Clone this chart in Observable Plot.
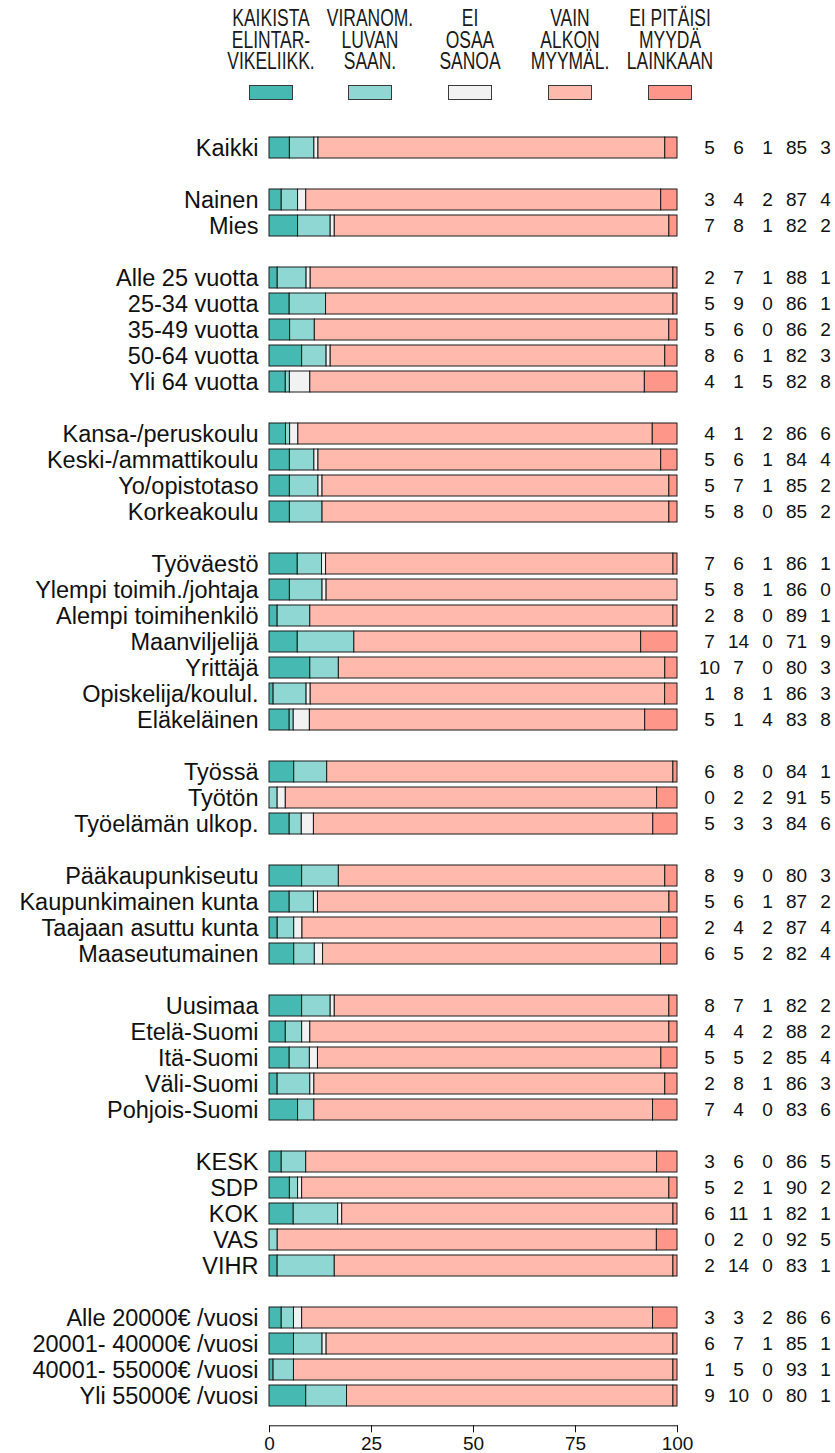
<!DOCTYPE html>
<html>
<head>
<meta charset="utf-8">
<script src="https://cdn.jsdelivr.net/npm/d3@7"></script>
<script src="https://cdn.jsdelivr.net/npm/@observablehq/plot@0.6"></script>
<style>
  html, body { margin: 0; padding: 0; background: #fff; }
  body { font-family: "Liberation Sans", Arial, sans-serif; color: #111; }
  #wrap { position: relative; width: 835px; }
  #legend { position: relative; width: 835px; height: 110px; }
  .item { position: absolute; top: 0; width: 0; }
  .txt { position: absolute; top: 8px; left: -80px; width: 160px; text-align: center;
         font-size: 23px; line-height: 21.5px; transform: scaleX(0.76); color: #1a1a1a; }
  .sw { position: absolute; top: 85px; left: -22px; width: 44px; height: 15px;
        box-sizing: border-box; border: 1.3px solid #3a3a3a; }
</style>
</head>
<body>
<div id="wrap">
  <div id="legend"></div>
  <div id="chart"></div>
</div>
<script>
const categories = [
  "KAIKISTA ELINTAR- VIKELIIKK.",
  "VIRANOM. LUVAN SAAN.",
  "EI OSAA SANOA",
  "VAIN ALKON MYYMÄL.",
  "EI PITÄISI MYYDÄ LAINKAAN"
];
const legendLines = [
  ["KAIKISTA", "ELINTAR-", "VIKELIIKK."],
  ["VIRANOM.", "LUVAN", "SAAN."],
  ["EI", "OSAA", "SANOA"],
  ["VAIN", "ALKON", "MYYMÄL."],
  ["EI PITÄISI", "MYYDÄ", "LAINKAAN"]
];
const colors = ["#45b9b2", "#8fd7d2", "#f2f2f2", "#ffbaad", "#fe968a"];

// groups of rows (a blank row separates groups)
const groups = [
  ["Kaikki"],
  ["Nainen", "Mies"],
  ["Alle 25 vuotta", "25-34 vuotta", "35-49 vuotta", "50-64 vuotta", "Yli 64 vuotta"],
  ["Kansa-/peruskoulu", "Keski-/ammattikoulu", "Yo/opistotaso", "Korkeakoulu"],
  ["Työväestö", "Ylempi toimih./johtaja", "Alempi toimihenkilö", "Maanviljelijä", "Yrittäjä", "Opiskelija/koulul.", "Eläkeläinen"],
  ["Työssä", "Työtön", "Työelämän ulkop."],
  ["Pääkaupunkiseutu", "Kaupunkimainen kunta", "Taajaan asuttu kunta", "Maaseutumainen"],
  ["Uusimaa", "Etelä-Suomi", "Itä-Suomi", "Väli-Suomi", "Pohjois-Suomi"],
  ["KESK", "SDP", "KOK", "VAS", "VIHR"],
  ["Alle 20000€ /vuosi", "20001- 40000€ /vuosi", "40001- 55000€ /vuosi", "Yli 55000€ /vuosi"]
];

// values per category, in row order
const kaikista = [5, 3,7, 2,5,5,8,4, 4,5,5,5, 7,5,2,7,10,1,5, 6,0,5, 8,5,2,6, 8,4,5,2,7, 3,5,6,0,2, 3,6,1,9];
const viranom  = [6, 4,8, 7,9,6,6,1, 1,6,7,8, 6,8,8,14,7,8,1, 8,2,3, 9,6,4,5, 7,4,5,8,4, 6,2,11,2,14, 3,7,5,10];
const eiOsaa   = [1, 2,1, 1,0,0,1,5, 2,1,1,0, 1,1,0,0,0,1,4, 0,2,3, 0,1,2,2, 1,2,2,1,0, 0,1,1,0,0, 2,1,0,0];
const vainAlko = [85, 87,82, 88,86,86,82,82, 86,84,85,85, 86,86,89,71,80,86,83, 84,91,84, 80,87,87,82, 82,88,85,86,83, 86,90,82,92,83, 86,85,93,80];
const eiMyyda  = [3, 4,2, 1,1,2,3,8, 6,4,2,2, 1,0,1,9,3,3,8, 1,5,6, 3,2,4,4, 2,2,4,3,6, 5,2,1,5,1, 6,1,1,1];

const series = [kaikista, viranom, eiOsaa, vainAlko, eiMyyda];
const labels = groups.flat();

// y domain with blank separator rows
const yDomain = [];
groups.forEach((g, i) => {
  if (i > 0) yDomain.push("gap" + i);
  yDomain.push(...g);
});

const rows = labels.map((label, r) => {
  const vals = series.map(s => s[r]);
  return {label, vals, total: d3.sum(vals)};
});
const tall = [];
rows.forEach(row => {
  row.vals.forEach((v, i) => {
    tall.push({label: row.label, cat: categories[i], share: v / row.total * 100});
  });
});

// legend
const legend = document.getElementById("legend");
const legendX = [271, 370, 470, 570, 670];
legendLines.forEach((lines, i) => {
  const it = document.createElement("div");
  it.className = "item";
  it.style.left = legendX[i] + "px";
  const t = document.createElement("div");
  t.className = "txt";
  t.innerHTML = lines.join("<br>");
  const s = document.createElement("div");
  s.className = "sw";
  s.style.background = colors[i];
  it.appendChild(t);
  it.appendChild(s);
  legend.appendChild(it);
});

const colDx = [32, 61, 90, 119, 148];

const chart = Plot.plot({
  width: 835,
  height: 1343,
  marginLeft: 269,
  marginRight: 158,
  marginTop: 7.6,
  marginBottom: 27.7,
  style: {fontFamily: "'Liberation Sans', Arial, sans-serif", fontSize: "19px", color: "#111", background: "#fff"},
  x: {domain: [0, 100], label: null},
  y: {domain: yDomain, padding: 0.2, label: null},
  color: {domain: categories, range: colors},
  marks: [
    Plot.barX(tall, Plot.stackX({y: "label", x: "share", fill: "cat", stroke: "#1a1a1a", strokeWidth: 1})),
    Plot.axisY({tickSize: 0, tickPadding: 11, fontSize: 23.5, fill: "#111",
                tickFormat: d => d.startsWith("gap") ? "" : d}),
    Plot.axisX({ticks: [0, 25, 50, 75, 100], tickSize: 7, tickPadding: 4, fontSize: 19, fill: "#111", label: null}),
    Plot.frame({anchor: "bottom", stroke: "#111"}),
    ...series.map((s, i) => Plot.text(rows, {
      y: "label", frameAnchor: "right", dx: colDx[i],
      text: d => d.vals[i], fontSize: 19, fill: "#111", textAnchor: "middle"
    }))
  ]
});
document.getElementById("chart").appendChild(chart);
</script>
</body>
</html>
